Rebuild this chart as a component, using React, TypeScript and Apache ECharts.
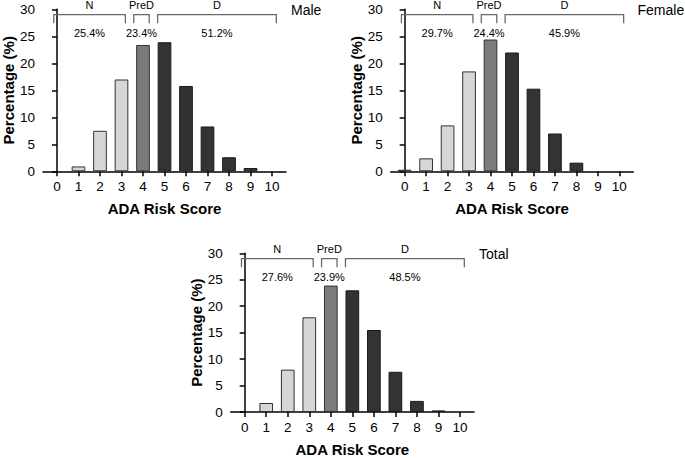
import React, { useEffect, useRef } from "react";
import * as echarts from "echarts";

const scores = [0, 1, 2, 3, 4, 5, 6, 7, 8, 9, 10];
const maleValues = [0, 0.9, 7.5, 17.0, 23.4, 23.9, 15.8, 8.3, 2.6, 0.6, 0];
const femaleValues = [0.3, 2.4, 8.5, 18.5, 24.4, 22.0, 15.3, 7.0, 1.6, 0, 0];
const totalValues = [0, 1.7, 8.0, 17.9, 23.9, 23.0, 15.5, 7.6, 2.1, 0.3, 0];

const groupNames = ["N", "PreD", "D"];
const bracketStart = [-0.15, 3.57, 4.68];
const bracketEnd = [3.18, 4.29, 10.2];
const malePct = ["25.4%", "23.4%", "51.2%"];
const femalePct = ["29.7%", "24.4%", "45.9%"];
const totalPct = ["27.6%", "23.9%", "48.5%"];
const panelTitles = ["Male", "Female", "Total"];

const FONT = "Liberation Sans, Arial, sans-serif";
const colorN = "#d6d6d6";
const colorPreD = "#7b7b7b";
const colorD = "#333333";

function barColor(score: number) {
  if (score <= 3) return colorN;
  if (score === 4) return colorPreD;
  return colorD;
}

export default function App() {
  const ref = useRef<HTMLDivElement>(null);
  useEffect(() => {
    if (!ref.current) return;
    const chart = echarts.init(ref.current, undefined, { renderer: "svg" });

    const grids = [
      { left: 42.7, top: 9.3, width: 243.3, height: 162 },
      { left: 390.7, top: 9.3, width: 242.6, height: 162 },
      { left: 230.7, top: 253.3, width: 243.3, height: 161.7 },
    ];
    const valuesList = [maleValues, femaleValues, totalValues];
    const pctList = [malePct, femalePct, totalPct];
    const titlePos = [
      { left: 291, top: 3 },
      { left: 637.5, top: 3 },
      { left: 479, top: 247 },
    ];

    const xAxes = grids.map((_, i) => ({
      type: "value",
      gridIndex: i,
      min: -0.65,
      max: 10.65,
      splitLine: { show: false },
      axisLine: { show: true, lineStyle: { color: "#000", width: 1.5 } },
      axisTick: {
        show: true,
        customValues: scores,
        length: 5,
        lineStyle: { color: "#000", width: 1.5 },
      },
      axisLabel: {
        customValues: scores,
        margin: 8,
        fontSize: 13.5,
        color: "#000",
        fontFamily: FONT,
      },
      name: "ADA Risk Score",
      nameLocation: "middle",
      nameGap: 30,
      nameTextStyle: { fontSize: 15, fontWeight: "bold", color: "#000", fontFamily: FONT },
    }));

    const yAxes = grids.map((_, i) => ({
      type: "value",
      gridIndex: i,
      min: 0,
      max: 30,
      interval: 5,
      splitLine: { show: false },
      axisLine: { show: true, lineStyle: { color: "#000", width: 1.5 } },
      axisTick: { show: true, length: 5, lineStyle: { color: "#000", width: 1.5 } },
      axisLabel: { margin: 8, fontSize: 13.5, color: "#000", fontFamily: FONT },
      name: "Percentage (%)",
      nameLocation: "middle",
      nameGap: 27,
      nameTextStyle: { fontSize: 15, fontWeight: "bold", color: "#000", fontFamily: FONT },
    }));

    const barSeries = valuesList.map((vals, i) => ({
      type: "bar",
      xAxisIndex: i,
      yAxisIndex: i,
      barWidth: 13.7,
      data: scores.map((s, k) => ({
        value: [s, vals[k]],
        itemStyle: {
          color: barColor(s),
          borderColor: s >= 5 ? "#1a1a1a" : "#333",
          borderWidth: vals[k] > 0 ? 1 : 0,
          opacity: vals[k] > 0 ? 1 : 0,
        },
      })),
    }));

    const bracketSeries = pctList.map((pcts, i) => ({
      type: "custom",
      xAxisIndex: i,
      yAxisIndex: i,
      clip: false,
      silent: true,
      data: groupNames.map((_, g) => [bracketStart[g], bracketEnd[g], 29]),
      renderItem: (params: any, api: any) => {
        const g = params.dataIndex;
        const p1 = api.coord([api.value(0), api.value(2)]);
        const p2 = api.coord([api.value(1), api.value(2)]);
        const leg = 8.6;
        const cx = (p1[0] + p2[0]) / 2;
        return {
          type: "group",
          children: [
            {
              type: "polyline",
              shape: {
                points: [
                  [p1[0], p1[1] + leg],
                  [p1[0], p1[1]],
                  [p2[0], p2[1]],
                  [p2[0], p2[1] + leg],
                ],
              },
              style: { stroke: "#6a6a6a", lineWidth: 1.3, fill: null },
            },
            {
              type: "text",
              style: {
                text: groupNames[g],
                x: cx,
                y: p1[1] - 9.7,
                align: "center",
                verticalAlign: "middle",
                fontSize: 11,
                fontFamily: FONT,
                fill: "#000",
              },
            },
            {
              type: "text",
              style: {
                text: pcts[g],
                x: cx,
                y: p1[1] + 18,
                align: "center",
                verticalAlign: "middle",
                fontSize: 11,
                fontFamily: FONT,
                fill: "#000",
              },
            },
          ],
        };
      },
    }));

    chart.setOption({
      animation: false,
      backgroundColor: "#fff",
      title: panelTitles.map((t, i) => ({
        text: t,
        left: titlePos[i].left,
        top: titlePos[i].top,
        padding: 0,
        textStyle: { fontSize: 14, fontWeight: "normal", color: "#000", fontFamily: FONT },
      })),
      grid: grids,
      xAxis: xAxes,
      yAxis: yAxes,
      series: [...barSeries, ...bracketSeries],
    } as any);

    return () => chart.dispose();
  }, []);

  return (
    <div
      ref={ref}
      style={{ position: "fixed", left: 0, top: 0, width: 685, height: 458, background: "#fff" }}
    />
  );
}
